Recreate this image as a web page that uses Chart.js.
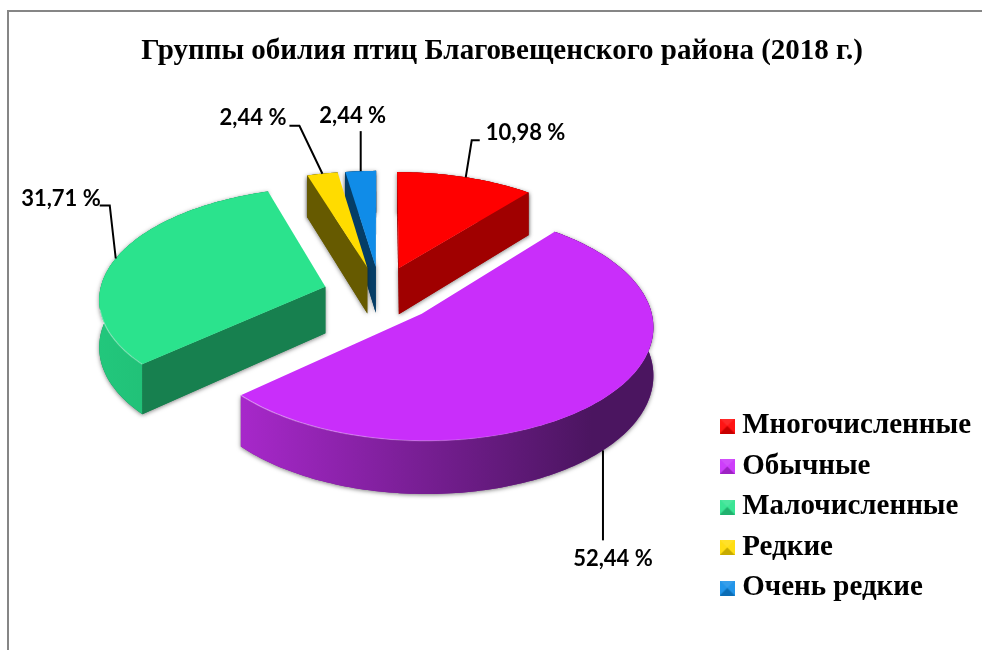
<!DOCTYPE html>
<html lang="ru">
<head>
<meta charset="UTF-8">
<title>Группы обилия птиц</title>
<style>
    html, body { margin: 0; background: #fff; overflow: hidden; }
    #frame {
        position: absolute; left: 7px; top: 10px; width: 975px; height: 640px;
        border-top: 2px solid #868686; border-left: 2px solid #868686;
    }
    canvas { display: block; }
</style>
<script src="https://cdn.jsdelivr.net/npm/chart.js@4/dist/chart.umd.min.js"></script>
</head>
<body>
<div id="frame"><canvas id="pie" width="973" height="638"></canvas></div>
<script>
    const titleText = 'Группы обилия птиц Благовещенского района (2018 г.)';
    const categories = ['Многочисленные', 'Обычные', 'Малочисленные', 'Редкие', 'Очень редкие'];
    const values = [10.98, 52.44, 31.71, 2.44, 2.44];
    const valueLabels = ['10,98 %', '52,44 %', '31,71 %', '2,44 %', '2,44 %'];

    const topColors = ['#ff0000', '#c92efa', '#2be38d', '#ffdc00', '#108ce8'];
    const faceColors = ['#a00000', '#7a1c98', '#17804f', '#665a00', '#053d66'];
    const rimLeftColors = ['#a00000', '#a728ca', '#22c77c', '#665a00', '#053d66'];
    const rimRightColors = ['#a00000', '#4b1560', '#1fb56f', '#665a00', '#053d66'];

    // camera for the tilted pie: where its centre lands on the canvas, flattening, perspective, thickness
    const viewX = 371, viewY = 282;
    const flatten = 0.489, perspective = 0.0985, thickness = 47;
    const pieRadius = 226, explode = 57;

    // leader lines and text, relative to the rim point in the middle of each slice
    const leaders = [
        { line: [[6, -37], [14, -37]], text: [20, -44], align: 'left', front: false },
        { line: [[0, 90]], text: [10, 109], align: 'center', front: true },
        { line: [[-6, -53], [-16, -53]], text: [-15, -60], align: 'right', front: false },
        { line: [[-23, -48], [-33, -48]], text: [-36, -56], align: 'right', front: false },
        { line: [[0, -40]], text: [-8, -55], align: 'center', front: false }
    ];

    // plane point (relative to library centre, in radii) to the screen
    function project(nx, ny) {
        const w = 1 - perspective * ny;
        return { x: viewX + pieRadius * nx / w, y: viewY + pieRadius * flatten * ny / w, drop: thickness / w };
    }

    function arcGeometry(arc, R) {
        const props = arc.getProps(['startAngle', 'endAngle']);
        const mid = (props.startAngle + props.endAngle) / 2;
        const off = arc.options.offset / R;
        const ox = Math.cos(mid) * off, oy = Math.sin(mid) * off;
        const at = a => project(ox + Math.cos(a), oy + Math.sin(a));
        const rim = [];
        const steps = Math.ceil((props.endAngle - props.startAngle) / 0.02);
        for (let s = 0; s <= steps; s++) {
            rim.push(at(props.startAngle + (props.endAngle - props.startAngle) * s / steps));
        }
        return { apex: project(ox, oy), rim, midRim: at(mid), midAngle: mid };
    }

    function polygon(ctx, pts) {
        ctx.beginPath();
        pts.forEach((p, i) => i ? ctx.lineTo(p[0], p[1]) : ctx.moveTo(p[0], p[1]));
        ctx.closePath();
    }

    // is the wall under edge apex-rimEnd on the viewer's side of the slice?
    function faceVisible(g, end, inside) {
        const ex = end.x - g.apex.x, ey = end.y - g.apex.y;
        const side = (px, py) => ex * (py - g.apex.y) - ey * (px - g.apex.x);
        return side(g.apex.x, g.apex.y + g.apex.drop) * side(inside.x, inside.y) < 0;
    }

    function drawSlice(ctx, g, i) {
        const first = g.rim[0], last = g.rim[g.rim.length - 1];
        const wall = g.rim.map(p => [p.x, p.y])
            .concat(g.rim.slice().reverse().map(p => [p.x, p.y + p.drop]));
        const faces = [first, last].filter(e => faceVisible(g, e, g.midRim)).map(e => [
            [g.apex.x, g.apex.y], [e.x, e.y], [e.x, e.y + e.drop], [g.apex.x, g.apex.y + g.apex.drop]
        ]);

        // soft shadow under the whole body
        ctx.save();
        ctx.shadowColor = 'rgba(0,0,0,0.5)';
        ctx.shadowBlur = 4;
        ctx.shadowOffsetY = 1;
        ctx.fillStyle = faceColors[i];
        polygon(ctx, wall); ctx.fill();
        faces.forEach(f => { polygon(ctx, f); ctx.fill(); });
        ctx.restore();

        const xs = g.rim.map(p => p.x);
        const minX = Math.min(...xs), maxX = Math.max(...xs);
        const grad = ctx.createLinearGradient(minX, 0, maxX, 0);
        grad.addColorStop(0, rimLeftColors[i]);
        grad.addColorStop(0.85, rimRightColors[i]);
        grad.addColorStop(1, rimRightColors[i]);
        ctx.fillStyle = grad;
        polygon(ctx, wall); ctx.fill();

        ctx.fillStyle = faceColors[i];
        faces.forEach(f => { polygon(ctx, f); ctx.fill(); });

        ctx.fillStyle = topColors[i];
        polygon(ctx, [[g.apex.x, g.apex.y]].concat(g.rim.map(p => [p.x, p.y])));
        ctx.fill();

        // thin light line along the near rim, fading to the right
        const shine = ctx.createLinearGradient(minX, 0, maxX, 0);
        shine.addColorStop(0, 'rgba(255,255,255,0.4)');
        shine.addColorStop(0.6, 'rgba(255,255,255,0.12)');
        shine.addColorStop(0.8, 'rgba(255,255,255,0)');
        ctx.strokeStyle = shine;
        ctx.lineWidth = 1.2;
        ctx.beginPath();
        const front = g.rim.filter(p => p.y > viewY + 15);
        front.forEach((p, k) => k ? ctx.lineTo(p.x, p.y) : ctx.moveTo(p.x, p.y));
        ctx.stroke();
    }

    function drawLeader(ctx, g, i) {
        const l = leaders[i];
        const x0 = g.midRim.x, y0 = g.midRim.y + (l.front ? g.midRim.drop : 0);
        ctx.strokeStyle = '#000';
        ctx.lineWidth = 2;
        ctx.beginPath();
        ctx.moveTo(x0, y0);
        l.line.forEach(d => ctx.lineTo(x0 + d[0], y0 + d[1]));
        ctx.stroke();
        ctx.fillStyle = '#000';
        ctx.font = 'bold 22px Lato';
        ctx.textAlign = l.align;
        ctx.textBaseline = 'middle';
        ctx.fillText(valueLabels[i], x0 + l.text[0], y0 + l.text[1]);
    }

    const pie3d = {
        id: 'pie3d',
        beforeDatasetDraw(chart, args) {
            const ctx = chart.ctx;
            const arcs = args.meta.data;
            const geo = arcs.map(a => arcGeometry(a, a.outerRadius));
            // far slices first
            const order = geo.map((g, i) => i).sort((a, b) => geo[a].apex.y - geo[b].apex.y);
            order.forEach(i => drawSlice(ctx, geo[i], i));
            geo.forEach((g, i) => drawLeader(ctx, g, i));
            return false;
        }
    };

    function swatch(color) {
        const s = 15, c = document.createElement('canvas');
        c.width = s; c.height = s;
        const x = c.getContext('2d');
        x.fillStyle = color;
        x.fillRect(0, 0, s, s);
        const tri = (pts, fill) => {
            x.fillStyle = fill;
            x.beginPath();
            pts.forEach(p => x.lineTo(p[0], p[1]));
            x.closePath();
            x.fill();
        };
        tri([[0, 0], [s, 0], [s / 2, s / 2]], 'rgba(255,255,255,0.16)');
        tri([[0, 0], [0, s], [s / 2, s / 2]], 'rgba(255,255,255,0.08)');
        tri([[s, 0], [s, s], [s / 2, s / 2]], 'rgba(255,255,255,0.08)');
        tri([[0, s], [s, s], [s / 2, s / 2]], 'rgba(0,0,0,0.22)');
        return c;
    }

    new Chart(document.getElementById('pie'), {
        type: 'pie',
        data: {
            labels: categories,
            datasets: [{
                data: values,
                backgroundColor: topColors,
                borderWidth: 0,
                offset: explode,
                radius: pieRadius
            }]
        },
        options: {
            responsive: false,
            animation: false,
            events: [],
            radius: pieRadius,
            layout: { padding: { left: 14, right: 1, top: 0, bottom: 36 } },
            plugins: {
                tooltip: { enabled: false },
                title: {
                    display: true,
                    text: titleText,
                    color: '#000',
                    font: { family: 'Liberation Serif', size: 29, weight: 'bold' },
                    padding: { top: 22, bottom: 8 }
                },
                legend: {
                    position: 'right',
                    align: 'end',
                    onClick: null,
                    labels: {
                        color: '#111',
                        font: { family: 'Liberation Serif', size: 29, weight: 'bold' },
                        padding: 11.5,
                        usePointStyle: true,
                        pointStyleWidth: 1,
                        generateLabels: () => categories.map((text, i) => ({
                            text, index: i, hidden: false, lineWidth: 0,
                            fillStyle: topColors[i], pointStyle: swatch(topColors[i])
                        }))
                    }
                }
            }
        },
        plugins: [pie3d]
    });
</script>
</body>
</html>
